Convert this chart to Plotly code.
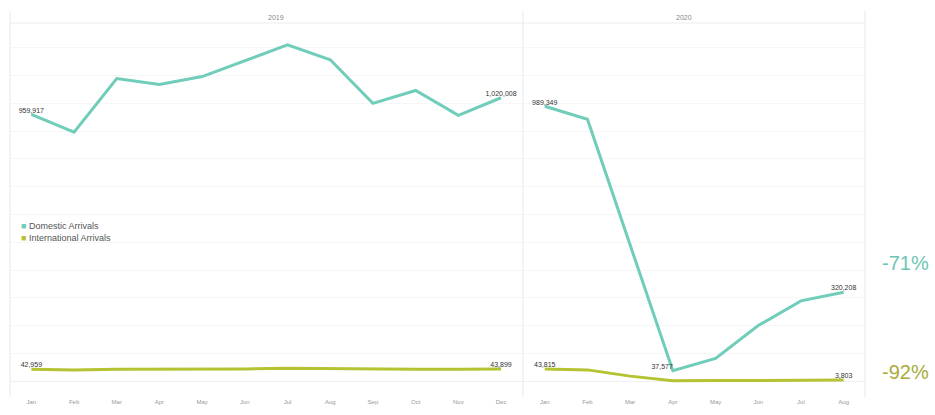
import plotly.graph_objects as go
from plotly.subplots import make_subplots

months_2019 = ["Jan", "Feb", "Mar", "Apr", "May", "Jun", "Jul", "Aug", "Sep", "Oct", "Nov", "Dec"]
months_2020 = ["Jan", "Feb", "Mar", "Apr", "May", "Jun", "Jul", "Aug"]

domestic_2019 = [959917, 896300, 1089200, 1067700, 1096300, 1153400, 1210600, 1157000, 999900, 1046300, 957000, 1020008]
international_2019 = [42959, 40500, 42500, 42800, 42000, 44000, 46500, 45000, 42000, 43000, 43200, 43899]
domestic_2020 = [989349, 942700, 490000, 37577, 82000, 200000, 289000, 320208]
international_2020 = [43815, 40500, 18000, 1500, 1900, 2600, 3200, 3803]

series_names = ["Domestic Arrivals", "International Arrivals"]
labelled_2019 = [0, 11]
labelled_dom_2020 = [0, 3, 7]
labelled_int_2020 = [0, 7]

change_labels = ["-71%", "-92%"]

DOM = "#6fcdb9"
INT = "#b5c232"
DOM_TXT = "#6cc6b4"
INT_TXT = "#a8ac3c"
FONT = "Liberation Sans, Arial"

def lab(vals, idx):
    return [f"{v:,}" if i in idx else "" for i, v in enumerate(vals)]

fig = make_subplots(rows=1, cols=2, column_widths=[12, 8], horizontal_spacing=0.0012, shared_yaxes=True)

tf = dict(size=7, color="#333333", family=FONT)

dom20_pos = ["top center"] * len(domestic_2020)
dom20_pos[3] = "top left"

fig.add_trace(go.Scatter(x=months_2019, y=domestic_2019, mode="lines+text", text=lab(domestic_2019, labelled_2019),
                         textposition="top center", textfont=tf, line=dict(color=DOM, width=3),
                         name=series_names[0], showlegend=False), 1, 1)
fig.add_trace(go.Scatter(x=months_2019, y=international_2019, mode="lines+text", text=lab(international_2019, labelled_2019),
                         textposition="top center", textfont=tf, line=dict(color=INT, width=3),
                         name=series_names[1], showlegend=False), 1, 1)
fig.add_trace(go.Scatter(x=months_2020, y=domestic_2020, mode="lines+text", text=lab(domestic_2020, labelled_dom_2020),
                         textposition=dom20_pos, textfont=tf, line=dict(color=DOM, width=3),
                         name=series_names[0], showlegend=False), 1, 2)
fig.add_trace(go.Scatter(x=months_2020, y=international_2020, mode="lines+text", text=lab(international_2020, labelled_int_2020),
                         textposition="top center", textfont=tf, line=dict(color=INT, width=3),
                         name=series_names[1], showlegend=False), 1, 2)

yr = [-57136, 1289131]
for c in (1, 2):
    fig.update_yaxes(range=yr, showticklabels=False, showgrid=True, gridcolor="#f6f6f6", dtick=100000,
                     zeroline=True, zerolinecolor="#f0f0f0", zerolinewidth=1, ticks="", row=1, col=c)
fig.update_xaxes(range=[-0.5, 11.5], row=1, col=1)
fig.update_xaxes(range=[-0.5, 7.5], row=1, col=2)
fig.update_xaxes(showgrid=False, zeroline=False, ticks="", tickfont=dict(size=6, color="#999999"),
                 ticklen=0, tickangle=0)

shapes = []
d1 = fig.layout.xaxis.domain
d2 = fig.layout.xaxis2.domain
mid = (d1[1] + d2[0]) / 2
for xv in (d1[0], mid, d2[1]):
    shapes.append(dict(type="line", xref="paper", yref="paper", x0=xv, x1=xv, y0=0, y1=1.032,
                       line=dict(color="#e8e8e8", width=1)))
shapes.append(dict(type="line", xref="paper", yref="paper", x0=d1[0], x1=d2[1], y0=1, y1=1,
                   line=dict(color="#ececec", width=1)))

annotations = [
    dict(text="2019", x=(d1[0] + d1[1]) / 2, y=1.016, xref="paper", yref="paper", showarrow=False,
         font=dict(size=7, color="#888888", family=FONT), yanchor="middle"),
    dict(text="2020", x=(d2[0] + d2[1]) / 2, y=1.016, xref="paper", yref="paper", showarrow=False,
         font=dict(size=7, color="#888888", family=FONT), yanchor="middle"),
    dict(text=change_labels[0], x=1.0468, y=0.358, xref="paper", yref="paper", showarrow=False,
         font=dict(size=20, color=DOM_TXT, family=FONT), xanchor="center", yanchor="middle"),
    dict(text=change_labels[1], x=1.0468, y=0.0663, xref="paper", yref="paper", showarrow=False,
         font=dict(size=20, color=INT_TXT, family=FONT), xanchor="center", yanchor="middle"),
]
for name, col, yy in ((series_names[0], DOM, 0.456), (series_names[1], INT, 0.424)):
    annotations.append(dict(text=f'<span style="color:{col}">■</span> {name}', x=0.0105, y=yy,
                            xref="paper", yref="paper", showarrow=False, xanchor="left", yanchor="middle",
                            font=dict(size=9, color="#555555", family=FONT)))

fig.update_layout(
    width=935, height=415,
    margin=dict(l=10, r=70, t=23, b=15),
    paper_bgcolor="white", plot_bgcolor="white",
    font=dict(family=FONT, color="#555555"),
    shapes=shapes, annotations=annotations,
    showlegend=False,
)

fig.write_html("out.html")
